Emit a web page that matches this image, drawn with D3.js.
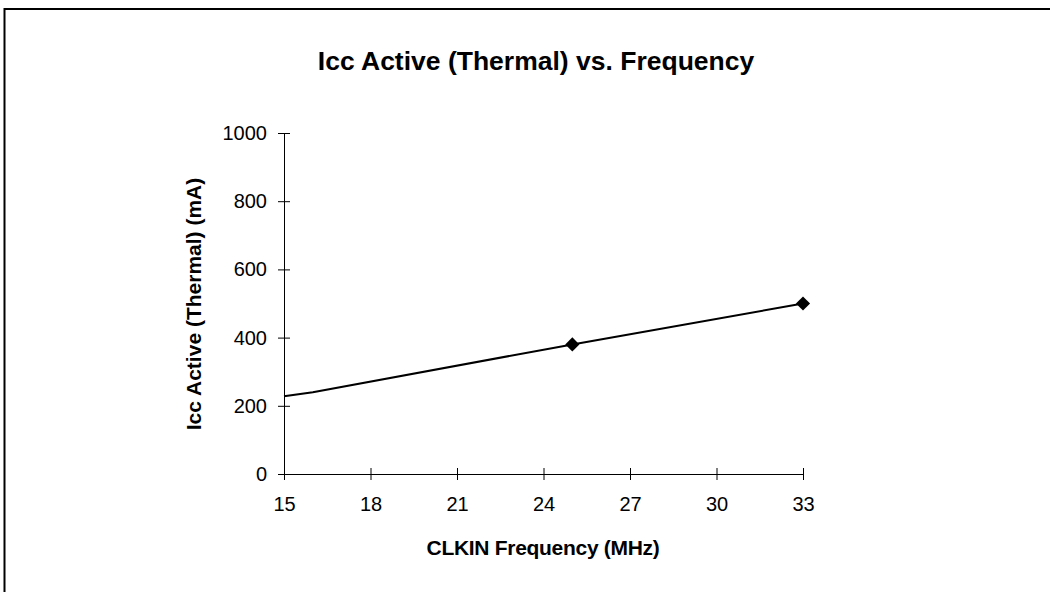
<!DOCTYPE html>
<html><head><meta charset="utf-8">
<script src="https://cdn.jsdelivr.net/npm/d3@7/dist/d3.min.js"></script>
<style>body{margin:0;background:#fff;}svg{display:block;font-family:"Liberation Sans",Arial,sans-serif;}</style>
</head><body>
<svg id="c" width="1050" height="592"></svg>
<script>
const title = "Icc Active (Thermal) vs. Frequency";
const xTitle = "CLKIN Frequency (MHz)";
const yTitle = "Icc Active (Thermal) (mA)";
const freq = [15, 16, 25, 33];
const icc = [228, 240, 380, 500];
const markerFreq = [25, 33];
const markerIcc = [380, 500];
const xTicks = [15, 18, 21, 24, 27, 30, 33];
const yTicks = [0, 200, 400, 600, 800, 1000];

const svg = d3.select("#c");
svg.append("rect").attr("x", 0).attr("y", 0).attr("width", 1050).attr("height", 592).attr("fill", "#fff");
// outer frame (extends past right/bottom edges)
svg.append("rect").attr("x", 4.5).attr("y", 9).attr("width", 1060).attr("height", 600)
  .attr("fill", "none").attr("stroke", "#000").attr("stroke-width", 2);

const x = d3.scaleLinear().domain([15, 33]).range([284, 803]);
const y = d3.scaleLinear().domain([0, 1000]).range([474, 133]);

// axes
const xAxis = svg.append("g").attr("transform", `translate(0,${y(0)})`)
  .call(d3.axisBottom(x).tickValues(xTicks).tickFormat(d3.format("d")).tickSize(6).tickPadding(17).tickSizeOuter(0));
xAxis.selectAll(".tick line").attr("y1", -6).attr("y2", 6);
const yAxis = svg.append("g").attr("transform", `translate(${x(15)},0)`)
  .call(d3.axisLeft(y).tickValues(yTicks).tickFormat(d3.format("d")).tickSize(6).tickPadding(11).tickSizeOuter(0));
yAxis.selectAll(".tick line").attr("x1", -6).attr("x2", 6);
svg.selectAll(".domain").attr("stroke", "#000").attr("stroke-width", 1);
svg.selectAll(".tick line").attr("stroke", "#000");
svg.selectAll("g").attr("font-size", null).attr("font-family", null);
svg.selectAll(".tick text").attr("fill", "#000").style("font-size", "20px")
  .style("font-family", "'Liberation Sans', Arial, sans-serif");
xAxis.selectAll(".tick text").attr("dy", "0.72em");

// line
const pts = freq.map((f, i) => [f, icc[i]]);
svg.append("path").datum(pts)
  .attr("d", d3.line().x(d => x(d[0])).y(d => y(d[1])))
  .attr("fill", "none").attr("stroke", "#000").attr("stroke-width", 2);

// markers
const mk = markerFreq.map((f, i) => [f, markerIcc[i]]);
svg.selectAll(".mk").data(mk).enter().append("path")
  .attr("transform", d => `translate(${x(d[0])},${y(d[1])}) rotate(45)`)
  .attr("d", "M-5,-5H5V5H-5Z").attr("fill", "#000");

// titles
svg.append("text").attr("x", 536).attr("y", 70).attr("text-anchor", "middle")
  .attr("font-weight", "bold").style("font-size", "26.5px").text(title);
svg.append("text").attr("x", 543).attr("y", 555).attr("text-anchor", "middle")
  .attr("font-weight", "bold").style("font-size", "21px").attr("letter-spacing", "-0.3").text(xTitle);
svg.append("text").attr("transform", "translate(201,304) rotate(-90)").attr("text-anchor", "middle")
  .attr("font-weight", "bold").style("font-size", "21px").text(yTitle);
</script>
</body></html>
